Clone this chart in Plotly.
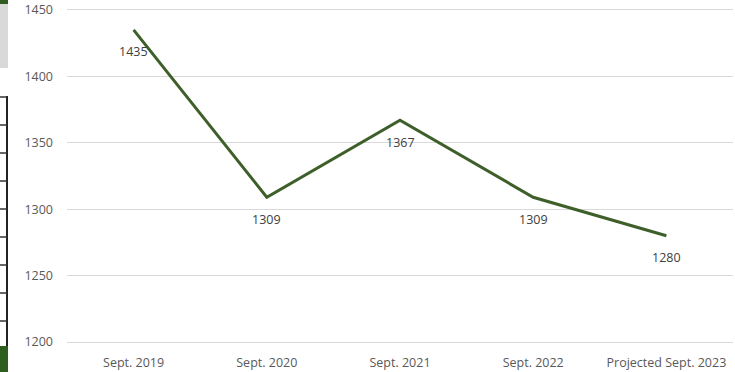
import plotly.graph_objects as go

categories = ["Sept. 2019", "Sept. 2020", "Sept. 2021", "Sept. 2022", "Projected Sept. 2023"]
values = [1435, 1309, 1367, 1309, 1280]
y_ticks = [1200, 1250, 1300, 1350, 1400, 1450]

W, H = 735, 372
ML, MR, MT, MB = 67, 2, 10, 30
PW, PH = W - ML - MR, H - MT - MB
FONT = "Open Sans"

def px(x):
    return (x - ML) / PW

def py(y):
    return 1 - (y - MT) / PH

fig = go.Figure()
fig.add_trace(go.Scatter(
    x=categories, y=values, mode="lines",
    line=dict(color="#3E5F2A", width=3),
    cliponaxis=False, hoverinfo="skip", showlegend=False,
))

annotations = [
    dict(x=c, y=v, xref="x", yref="y", text=str(v), showarrow=False, yshift=-22,
         font=dict(family=FONT, size=12.5, color="#404040"))
    for c, v in zip(categories, values)
]

# spreadsheet fragments visible at the left edge of the screenshot
shapes = []
shapes.append(dict(type="rect", xref="paper", yref="paper", x0=px(0), x1=px(8), y0=py(0), y1=py(4),
                   fillcolor="#2E5E1E", line=dict(width=0)))
shapes.append(dict(type="rect", xref="paper", yref="paper", x0=px(0), x1=px(8), y0=py(4), y1=py(68),
                   fillcolor="#D9D9D9", line=dict(width=0)))
shapes.append(dict(type="line", xref="paper", yref="paper", x0=px(7), x1=px(7), y0=py(96), y1=py(372),
                   line=dict(color="#222222", width=2)))
for yy in [97, 125, 153, 181, 209, 237, 265, 293, 321]:
    shapes.append(dict(type="line", xref="paper", yref="paper", x0=px(0), x1=px(7), y0=py(yy), y1=py(yy),
                       line=dict(color="#333333", width=1.5)))
shapes.append(dict(type="rect", xref="paper", yref="paper", x0=px(0), x1=px(8), y0=py(346), y1=py(372),
                   fillcolor="#2E5E1E", line=dict(width=0)))

fig.update_layout(
    width=W, height=H, margin=dict(l=ML, r=MR, t=MT, b=MB, autoexpand=False),
    paper_bgcolor="white", plot_bgcolor="white",
    shapes=shapes, annotations=annotations,
    xaxis=dict(range=[-0.5, 4.5], showgrid=False, zeroline=False, ticks="", automargin=False,
               showline=True, mirror=True, linecolor="#D9D9D9", linewidth=1,
               tickfont=dict(family=FONT, size=12.5, color="#595959"),
               ticklabelstandoff=9, fixedrange=True),
    yaxis=dict(range=[1200, 1450], tickvals=y_ticks, showgrid=True, gridcolor="#D9D9D9", gridwidth=1,
               zeroline=False, showline=False, ticks="", automargin=False,
               tickfont=dict(family=FONT, size=12.5, color="#595959"),
               ticklabelstandoff=13, fixedrange=True),
)

fig.write_html("out.html")
